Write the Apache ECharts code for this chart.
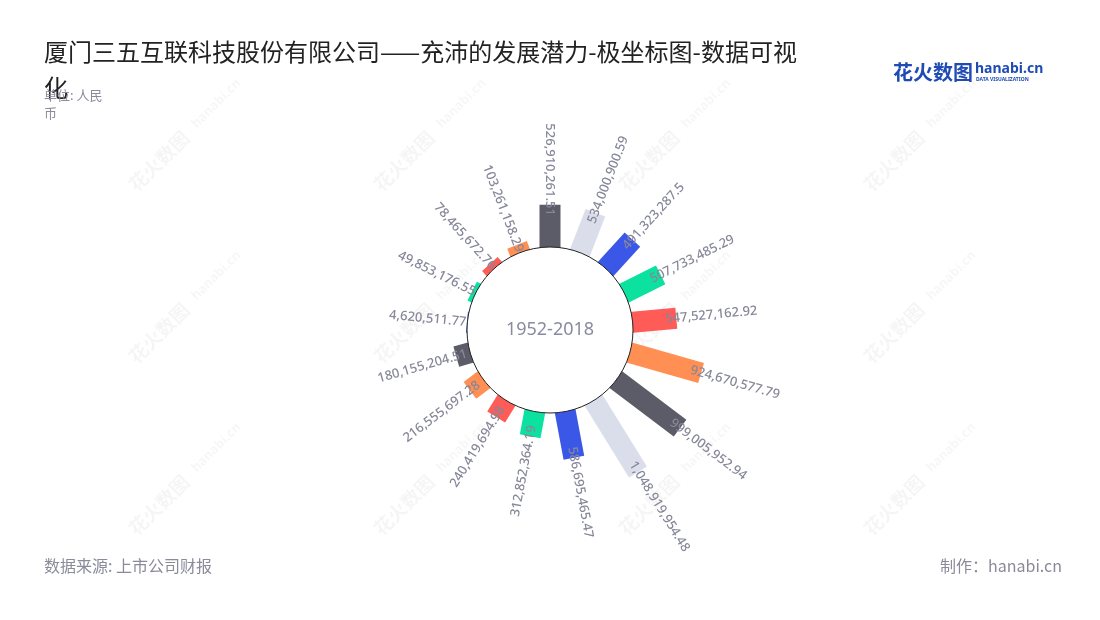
<!DOCTYPE html>
<html>
<head>
<meta charset="utf-8">
<script src="https://cdn.jsdelivr.net/npm/echarts@6/dist/echarts.min.js"></script>
<style>
  html, body { margin: 0; padding: 0; background: #fff; }
  #chart { width: 1100px; height: 620px; }
</style>
</head>
<body>
<div id="chart"></div>
<script>
// ---- data ----
const titleText = '厦门三五互联科技股份有限公司——充沛的发展潜力-极坐标图-数据可视化';
const unitText = '单位: 人民币';
const sourceText = '数据来源: 上市公司财报';
const makerText = '制作：hanabi.cn';
const centerText = '1952-2018';
const categories = ['1', '2', '3', '4', '5', '6', '7', '8', '9', '10', '11', '12', '13', '14', '15', '16', '17'];
const values = [
  526910261.51, 534000900.59, 491323287.5, 507733485.29, 547527162.92,
  924670577.79, 999005952.94, 1048919954.48, 586695465.47, 312852364.19,
  240419694.98, 216555697.28, 180155204.51, 4620511.77, 49853176.55,
  78465672.76, 103261158.29
];

// ---- styles ----
const C = {
  dark: '#5b5c67', light: '#dadeea', blue: '#3b57e8',
  green: '#0ce2a0', red: '#ff5b57', orange: '#ff8f52'
};
const barColors = [
  C.dark, C.light, C.blue, C.green, C.red, C.orange,
  C.dark, C.light, C.blue, C.green, C.red, C.orange,
  C.dark, C.blue, C.green, C.red, C.orange
];
const labelColor = '#868799';
const fmt = new Intl.NumberFormat('en-US', { maximumFractionDigits: 2 });

const chart = echarts.init(document.getElementById('chart'));

const BAR_HALF = 10.5;
const LABEL_INSET = 11;

function renderItem(params, api) {
  const idx = api.value(1);
  const val = api.value(0);
  const cs = params.coordSys;
  const cx = cs.cx, cy = cs.cy, r0 = cs.r0;
  const pBase = api.coord([0, idx]);
  const pEnd = api.coord([val, idx]);
  let ux = pBase[0] - cx, uy = pBase[1] - cy;
  const ul = Math.sqrt(ux * ux + uy * uy);
  ux /= ul; uy /= ul;
  const nx = -uy, ny = ux;
  const rEnd = Math.sqrt((pEnd[0] - cx) ** 2 + (pEnd[1] - cy) ** 2);
  const rStart = r0 - 8;
  const pts = [
    [cx + ux * rStart + nx * BAR_HALF, cy + uy * rStart + ny * BAR_HALF],
    [cx + ux * rEnd + nx * BAR_HALF, cy + uy * rEnd + ny * BAR_HALF],
    [cx + ux * rEnd - nx * BAR_HALF, cy + uy * rEnd - ny * BAR_HALF],
    [cx + ux * rStart - nx * BAR_HALF, cy + uy * rStart - ny * BAR_HALF]
  ];
  const theta = Math.atan2(-uy, ux);
  const right = ux > 0.01;
  const rl = Math.max(rEnd - LABEL_INSET, r0 + 1);
  return {
    type: 'group',
    children: [
      {
        type: 'polygon',
        shape: { points: pts },
        style: { fill: barColors[idx] }
      },
      {
        type: 'text',
        x: cx + ux * rl,
        y: cy + uy * rl,
        rotation: right ? theta : theta + Math.PI,
        style: {
          text: fmt.format(val),
          align: right ? 'left' : 'right',
          verticalAlign: 'middle',
          fill: labelColor,
          font: '500 13px "Noto Sans", sans-serif'
        }
      }
    ]
  };
}

// watermark graphics (decoration)
const watermarks = [];
for (let r = 0; r < 3; r++) {
  for (let c = 0; c < 4; c++) {
    watermarks.push({
      type: 'text',
      x: 132 + 245 * c,
      y: 188 + 172 * r,
      rotation: Math.PI / 4,
      silent: true,
      z: -10,
      style: {
        text: '花火数图',
        font: 'bold 19px "Noto Sans CJK SC", sans-serif',
        fill: 'rgba(0,0,0,0.04)',
        verticalAlign: 'middle'
      }
    });
    watermarks.push({
      type: 'text',
      x: 132 + 245 * c + 62,
      y: 188 + 172 * r - 62,
      rotation: Math.PI / 4,
      silent: true,
      z: -10,
      style: {
        text: 'hanabi.cn',
        font: 'bold 13px "Noto Sans", sans-serif',
        fill: 'rgba(0,0,0,0.035)',
        verticalAlign: 'middle'
      }
    });
  }
}

const option = {
  backgroundColor: '#ffffff',
  animation: false,
  title: [
    {
      text: titleText, left: 39, top: 29,
      textStyle: {
        fontSize: 24, fontWeight: 'normal', color: '#222',
        width: 775, overflow: 'break', lineHeight: 36,
        fontFamily: '"Noto Sans CJK SC", sans-serif'
      }
    },
    {
      text: unitText, left: 39, top: 81,
      textStyle: {
        fontSize: 13, fontWeight: 'normal', color: '#8a8a9a',
        width: 72, overflow: 'break', lineHeight: 18,
        fontFamily: '"Noto Sans CJK SC", sans-serif'
      }
    },
    {
      text: sourceText, left: 39, top: 553,
      textStyle: { fontSize: 16, fontWeight: 'normal', color: '#8a8a9a', fontFamily: '"Noto Sans CJK SC", sans-serif' }
    },
    {
      text: makerText, right: 33, top: 553,
      textStyle: { fontSize: 16, fontWeight: 'normal', color: '#8a8a9a', fontFamily: '"Noto Sans CJK SC", sans-serif' }
    }
  ],
  graphic: [
    ...watermarks,
    {
      type: 'text', x: 893, y: 72, silent: true,
      style: { text: '花火数图', font: 'bold 20px "Noto Sans CJK SC", sans-serif', fill: '#1e4bb4', verticalAlign: 'middle' }
    },
    {
      type: 'text', x: 975, y: 69, silent: true,
      style: { text: 'hanabi.cn', font: 'bold 14px "Noto Sans", sans-serif', fill: '#1e4bb4', verticalAlign: 'middle' }
    },
    {
      type: 'text', x: 976, y: 80, silent: true,
      style: { text: 'DATA VISUALIZATION', font: 'bold 5px "Noto Sans", sans-serif', fill: '#1e4bb4', verticalAlign: 'middle' }
    }
  ],
  polar: { center: ['50%', 330], radius: [83, 167] },
  angleAxis: {
    type: 'category', data: categories,
    startAngle: 90 + 180 / categories.length, clockwise: true,
    show: false
  },
  radiusAxis: { type: 'value', min: 0, max: 'dataMax', show: false },
  series: [
    {
      type: 'custom', coordinateSystem: 'polar',
      data: values.map((v, i) => [v, i]),
      renderItem: renderItem,
      z: 2
    },
    {
      type: 'pie', center: ['50%', 330], radius: [0, 83],
      silent: true, z: 5,
      itemStyle: { color: '#ffffff', borderColor: '#222', borderWidth: 1 },
      label: {
        show: true, position: 'center', formatter: centerText,
        fontSize: 18, color: '#8a8ba0', fontFamily: '"Noto Sans", sans-serif'
      },
      labelLine: { show: false },
      emphasis: { disabled: true },
      data: [{ value: 1, name: centerText }]
    }
  ]
};
chart.setOption(option);
</script>
</body>
</html>
